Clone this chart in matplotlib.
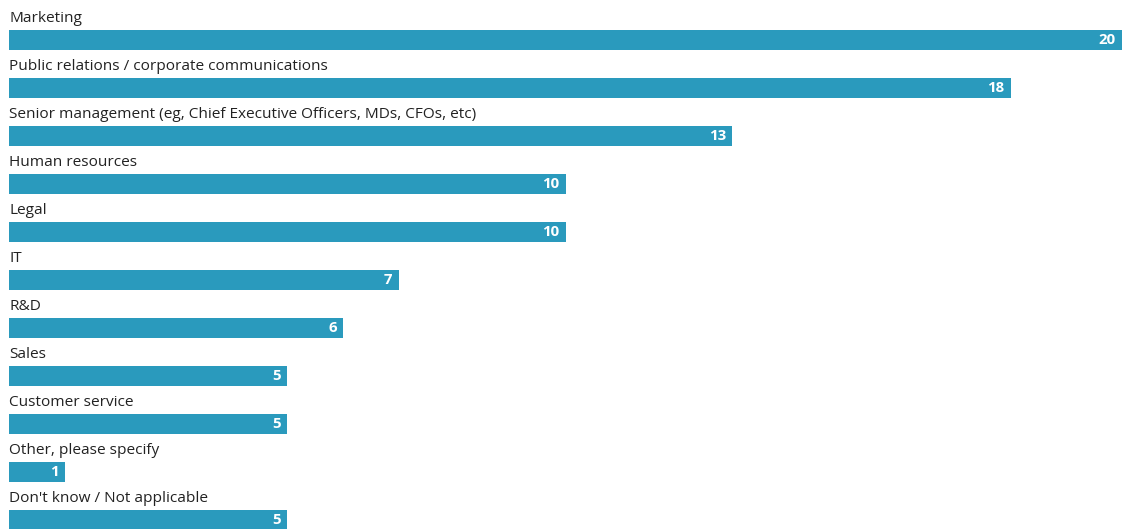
import matplotlib.pyplot as plt

categories = [
    "Marketing",
    "Public relations / corporate communications",
    "Senior management (eg, Chief Executive Officers, MDs, CFOs, etc)",
    "Human resources",
    "Legal",
    "IT",
    "R&D",
    "Sales",
    "Customer service",
    "Other, please specify",
    "Don't know / Not applicable",
]
values = [20, 18, 13, 10, 10, 7, 6, 5, 5, 1, 5]

bar_color = "#2a9abd"
text_color = "#222222"

W, H = 1134, 529
fig = plt.figure(figsize=(W / 100, H / 100), dpi=100)
ax = fig.add_axes([0, 0, 1, 1])

# pixel-based layout: 48px per row, 20px bars
px_per_unit = (1122 - 9) / 20
ax.set_xlim(-9 / px_per_unit, (W - 9) / px_per_unit)
ax.set_ylim(H, 0)

row = 48
for i, (cat, v) in enumerate(zip(categories, values)):
    top = 30 + row * i
    ax.barh(top + 10, v, height=20, left=0, color=bar_color)
    ax.text(0, top - 8, cat, fontsize=11.1, color=text_color,
            family="Open Sans", va="baseline", ha="left")
    ax.text(v - 6 / px_per_unit, top + 10, str(v), fontsize=10.8,
            color="white", fontweight="bold", family="Open Sans",
            va="center", ha="right")

ax.axis("off")
fig.savefig("out.png", dpi=100)
